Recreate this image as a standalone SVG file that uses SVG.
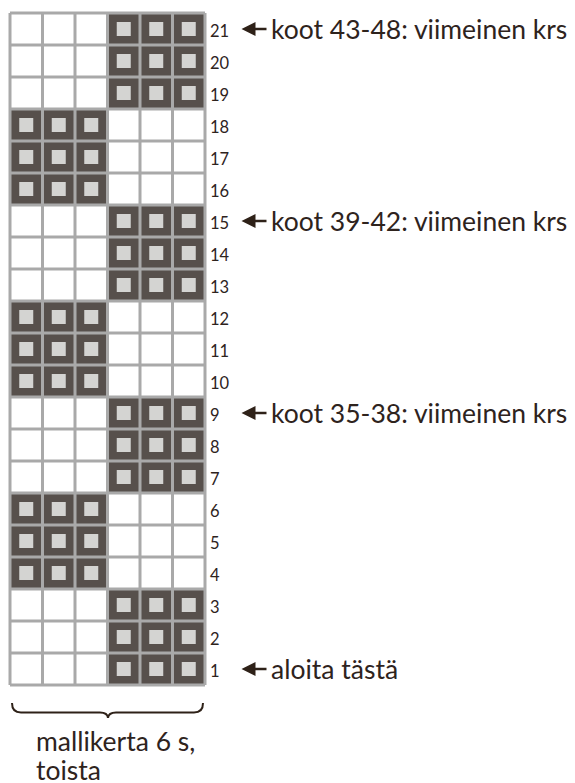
<svg xmlns="http://www.w3.org/2000/svg" width="575" height="783" viewBox="0 0 575 783">
<defs>
<style>
.bg{fill:#ffffff}
.dk{fill:#57504c}
.in{fill:#d4d4d2}
.gl{stroke:#a9a9a9;stroke-width:3;fill:none}
.num{font-family:Lato,"Noto Sans",sans-serif;font-size:16.5px;fill:#2e231d}
.lbl{font-family:Lato,"Noto Sans",sans-serif;font-size:26.5px;fill:#2e231d}
.arr{fill:#2e2118}
.ash{stroke:#2e2118;stroke-width:2.5}
</style>
<g id="dcell"><rect class="dk" x="0" y="0" width="32.5" height="32"/><rect class="in" x="9.25" y="9" width="14" height="14"/></g>
<g id="arrow"><polygon class="arr" points="0,0 14,-7 14,7"/><line class="ash" x1="12" y1="0" x2="25" y2="0"/></g>
</defs>
<rect class="bg" width="575" height="783"/>
<g id="grid">
<g id="cells">
<use href="#dcell" x="107.5" y="13"/><use href="#dcell" x="140" y="13"/><use href="#dcell" x="172.5" y="13"/>
<use href="#dcell" x="107.5" y="45"/><use href="#dcell" x="140" y="45"/><use href="#dcell" x="172.5" y="45"/>
<use href="#dcell" x="107.5" y="77"/><use href="#dcell" x="140" y="77"/><use href="#dcell" x="172.5" y="77"/>
<use href="#dcell" x="10" y="109"/><use href="#dcell" x="42.5" y="109"/><use href="#dcell" x="75" y="109"/>
<use href="#dcell" x="10" y="141"/><use href="#dcell" x="42.5" y="141"/><use href="#dcell" x="75" y="141"/>
<use href="#dcell" x="10" y="173"/><use href="#dcell" x="42.5" y="173"/><use href="#dcell" x="75" y="173"/>
<use href="#dcell" x="107.5" y="205"/><use href="#dcell" x="140" y="205"/><use href="#dcell" x="172.5" y="205"/>
<use href="#dcell" x="107.5" y="237"/><use href="#dcell" x="140" y="237"/><use href="#dcell" x="172.5" y="237"/>
<use href="#dcell" x="107.5" y="269"/><use href="#dcell" x="140" y="269"/><use href="#dcell" x="172.5" y="269"/>
<use href="#dcell" x="10" y="301"/><use href="#dcell" x="42.5" y="301"/><use href="#dcell" x="75" y="301"/>
<use href="#dcell" x="10" y="333"/><use href="#dcell" x="42.5" y="333"/><use href="#dcell" x="75" y="333"/>
<use href="#dcell" x="10" y="365"/><use href="#dcell" x="42.5" y="365"/><use href="#dcell" x="75" y="365"/>
<use href="#dcell" x="107.5" y="397"/><use href="#dcell" x="140" y="397"/><use href="#dcell" x="172.5" y="397"/>
<use href="#dcell" x="107.5" y="429"/><use href="#dcell" x="140" y="429"/><use href="#dcell" x="172.5" y="429"/>
<use href="#dcell" x="107.5" y="461"/><use href="#dcell" x="140" y="461"/><use href="#dcell" x="172.5" y="461"/>
<use href="#dcell" x="10" y="493"/><use href="#dcell" x="42.5" y="493"/><use href="#dcell" x="75" y="493"/>
<use href="#dcell" x="10" y="525"/><use href="#dcell" x="42.5" y="525"/><use href="#dcell" x="75" y="525"/>
<use href="#dcell" x="10" y="557"/><use href="#dcell" x="42.5" y="557"/><use href="#dcell" x="75" y="557"/>
<use href="#dcell" x="107.5" y="589"/><use href="#dcell" x="140" y="589"/><use href="#dcell" x="172.5" y="589"/>
<use href="#dcell" x="107.5" y="621"/><use href="#dcell" x="140" y="621"/><use href="#dcell" x="172.5" y="621"/>
<use href="#dcell" x="107.5" y="653"/><use href="#dcell" x="140" y="653"/><use href="#dcell" x="172.5" y="653"/>
</g>
<path class="gl" d="M10 13V685M42.5 13V685M75 13V685M107.5 13V685M140 13V685M172.5 13V685M205 13V685
M10 13H205M10 45H205M10 77H205M10 109H205M10 141H205M10 173H205M10 205H205M10 237H205M10 269H205M10 301H205M10 333H205M10 365H205M10 397H205M10 429H205M10 461H205M10 493H205M10 525H205M10 557H205M10 589H205M10 621H205M10 653H205M10 685H205"/>
</g>
<g id="row-numbers">
<text class="num" x="210" y="36.5">21</text>
<text class="num" x="210" y="68.5">20</text>
<text class="num" x="210" y="100.5">19</text>
<text class="num" x="210" y="132.5">18</text>
<text class="num" x="210" y="164.5">17</text>
<text class="num" x="210" y="196.5">16</text>
<text class="num" x="210" y="228.5">15</text>
<text class="num" x="210" y="260.5">14</text>
<text class="num" x="210" y="292.5">13</text>
<text class="num" x="210" y="324.5">12</text>
<text class="num" x="210" y="356.5">11</text>
<text class="num" x="210" y="388.5">10</text>
<text class="num" x="210" y="420.5">9</text>
<text class="num" x="210" y="452.5">8</text>
<text class="num" x="210" y="484.5">7</text>
<text class="num" x="210" y="516.5">6</text>
<text class="num" x="210" y="548.5">5</text>
<text class="num" x="210" y="580.5">4</text>
<text class="num" x="210" y="612.5">3</text>
<text class="num" x="210" y="644.5">2</text>
<text class="num" x="210" y="676.5">1</text>
</g>
<g id="connectors">
<use href="#arrow" x="241.5" y="29"/>
<use href="#arrow" x="241.5" y="221"/>
<use href="#arrow" x="241.5" y="413"/>
<use href="#arrow" x="241.5" y="669"/>
<path d="M12 703Q12 712.5 21 712.5H100Q107.5 712.5 108 718Q108.5 712.5 116 712.5H194Q203 712.5 203 703" fill="none" stroke="#2e2118" stroke-width="2"/>
</g>
<g id="label-43-48"><text class="lbl" x="271" y="39">koot 43-48: viimeinen krs</text></g>
<g id="label-39-42"><text class="lbl" x="271" y="231">koot 39-42: viimeinen krs</text></g>
<g id="label-35-38"><text class="lbl" x="271" y="423">koot 35-38: viimeinen krs</text></g>
<g id="label-start"><text class="lbl" x="271" y="679">aloita tästä</text></g>
<g id="label-repeat"><text class="lbl" x="36" y="751">mallikerta 6 s,</text><text class="lbl" x="36" y="780">toista</text></g>
</svg>
